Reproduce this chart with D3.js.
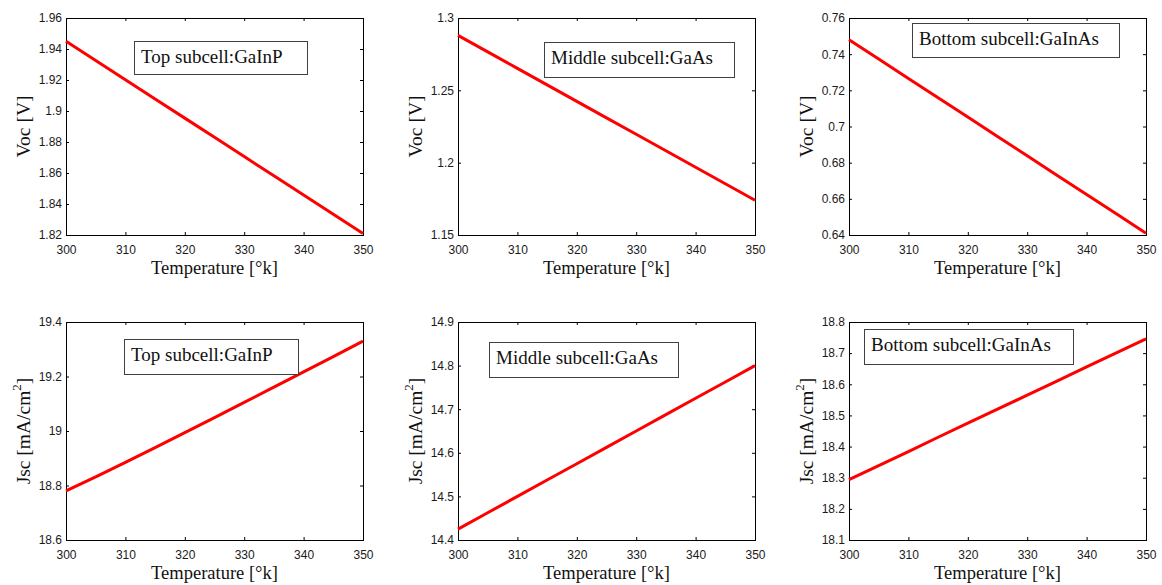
<!DOCTYPE html>
<html>
<head>
<meta charset="utf-8">
<script src="https://cdn.jsdelivr.net/npm/d3@7"></script>
<style>
  body { margin: 0; background: #fff; }
  svg { display: block; }
</style>
</head>
<body>
<div id="chart"></div>
<script>
// temperature samples [K]
const temps = [300, 305, 310, 315, 320, 325, 330, 335, 340, 345, 350]

// open circuit voltage [V]
const vocTop = [1.945, 1.9326, 1.9202, 1.9078, 1.8954, 1.883, 1.8706, 1.8582, 1.8458, 1.8334, 1.821]
const vocMiddle = [1.288, 1.2766, 1.2652, 1.2538, 1.2424, 1.231, 1.2196, 1.2082, 1.1968, 1.1854, 1.174]
const vocBottom = [0.748, 0.7373, 0.7266, 0.7159, 0.7052, 0.6945, 0.6838, 0.6731, 0.6624, 0.6517, 0.641]

// short circuit current density [mA/cm2]
const jscTop = [18.78, 18.832, 18.885, 18.939, 18.994, 19.049, 19.105, 19.161, 19.217, 19.273, 19.33]
const jscMiddle = [14.425, 14.4625, 14.5, 14.5375, 14.575, 14.6125, 14.65, 14.6875, 14.725, 14.7625, 14.8]
const jscBottom = [18.294, 18.339, 18.384, 18.43, 18.475, 18.52, 18.565, 18.61, 18.656, 18.701, 18.746]

// tick labels
const xTicks = [300, 310, 320, 330, 340, 350]
const yTicksVocTop = [1.82, 1.84, 1.86, 1.88, 1.9, 1.92, 1.94, 1.96]
const yTicksVocMiddle = [1.15, 1.2, 1.25, 1.3]
const yTicksVocBottom = [0.64, 0.66, 0.68, 0.7, 0.72, 0.74, 0.76]
const yTicksJscTop = [18.6, 18.8, 19, 19.2, 19.4]
const yTicksJscMiddle = [14.4, 14.5, 14.6, 14.7, 14.8, 14.9]
const yTicksJscBottom = [18.1, 18.2, 18.3, 18.4, 18.5, 18.6, 18.7, 18.8]

const cellNames = ['Top subcell:GaInP', 'Middle subcell:GaAs', 'Bottom subcell:GaInAs']

const W = 1162, H = 585
const svg = d3.select('#chart').append('svg').attr('width', W).attr('height', H)

// panel layout (pixels)
const colLeft = [66, 458, 849]
const rowTop = [18, 322]
const rowHeight = [217, 218]
const plotW = 297

const panels = [
  { row: 0, col: 0, values: vocTop, ticks: yTicksVocTop, label: 'voc', name: cellNames[0], box: [68, 23, 173, 33] },
  { row: 0, col: 1, values: vocMiddle, ticks: yTicksVocMiddle, label: 'voc', name: cellNames[1], box: [86, 24, 190, 35] },
  { row: 0, col: 2, values: vocBottom, ticks: yTicksVocBottom, label: 'voc', name: cellNames[2], box: [63, 5, 207, 34] },
  { row: 1, col: 0, values: jscTop, ticks: yTicksJscTop, label: 'jsc', name: cellNames[0], box: [58, 17, 174, 35] },
  { row: 1, col: 1, values: jscMiddle, ticks: yTicksJscMiddle, label: 'jsc', name: cellNames[1], box: [31, 20, 189, 35] },
  { row: 1, col: 2, values: jscBottom, ticks: yTicksJscBottom, label: 'jsc', name: cellNames[2], box: [15, 7, 209, 35] }
]

const fmt = d => String(+d.toFixed(3))

panels.forEach(p => {
  const left = colLeft[p.col], top = rowTop[p.row], h = rowHeight[p.row]
  const g = svg.append('g').attr('transform', `translate(${left},${top})`)

  const x = d3.scaleLinear().domain([300, 350]).range([0, plotW])
  const y = d3.scaleLinear().domain(d3.extent(p.ticks)).range([h, 0])

  // ticks on all four sides, pointing inward
  const axB = g.append('g').attr('transform', `translate(0,${h})`)
    .call(d3.axisBottom(x).tickValues(xTicks).tickFormat(d3.format('d')).tickSizeInner(-3).tickSizeOuter(0).tickPadding(10))
  const axT = g.append('g')
    .call(d3.axisTop(x).tickValues(xTicks).tickFormat('').tickSizeInner(-3).tickSizeOuter(0))
  const axL = g.append('g')
    .call(d3.axisLeft(y).tickValues(p.ticks).tickFormat(fmt).tickSizeInner(-3).tickSizeOuter(0).tickPadding(4))
  const axR = g.append('g').attr('transform', `translate(${plotW},0)`)
    .call(d3.axisRight(y).tickValues(p.ticks).tickFormat('').tickSizeInner(-3).tickSizeOuter(0))

  ;[axB, axT, axL, axR].forEach(a => {
    a.select('.domain').remove()
    a.selectAll('line').attr('stroke', '#000')
    a.selectAll('text').attr('fill', '#1a1a1a').style('font-family', '"Liberation Sans", Arial, sans-serif').style('font-size', '12px')
  })

  g.append('rect').attr('width', plotW).attr('height', h)
    .attr('fill', 'none').attr('stroke', '#000').attr('stroke-width', 1).attr('shape-rendering', 'crispEdges')

  // data line
  const line = d3.line().x((d, i) => x(temps[i])).y(d => y(d))
  g.append('path').datum(p.values)
    .attr('d', line).attr('fill', 'none').attr('stroke', '#ff0000').attr('stroke-width', 3)

  // text box
  const [bx, by, bw, bh] = p.box
  g.append('rect').attr('x', bx).attr('y', by).attr('width', bw).attr('height', bh)
    .attr('fill', '#fff').attr('stroke', '#404040').attr('stroke-width', 1).attr('shape-rendering', 'crispEdges')
  g.append('text').attr('x', bx + 7).attr('y', by + 22)
    .style('font-family', '"Liberation Serif", "Times New Roman", serif').style('font-size', '19px')
    .attr('fill', '#111').text(p.name)

  // x label
  g.append('text').attr('x', plotW / 2).attr('y', h + 39).attr('text-anchor', 'middle')
    .style('font-family', '"Liberation Serif", "Times New Roman", serif').style('font-size', '18.5px')
    .attr('fill', '#111').text('Temperature [°k]')

  // y label
  const yl = g.append('text').attr('transform', `translate(${-36},${h / 2}) rotate(-90)`).attr('text-anchor', 'middle')
    .style('font-family', '"Liberation Serif", "Times New Roman", serif').style('font-size', '19.5px')
    .attr('fill', '#111')
  if (p.label === 'voc') {
    yl.text('Voc [V]')
  } else {
    yl.append('tspan').text('Jsc [mA/cm')
    yl.append('tspan').attr('dy', -9).style('font-size', '13px').text('2')
    yl.append('tspan').attr('dy', 9).text(']')
  }
})
</script>
</body>
</html>
